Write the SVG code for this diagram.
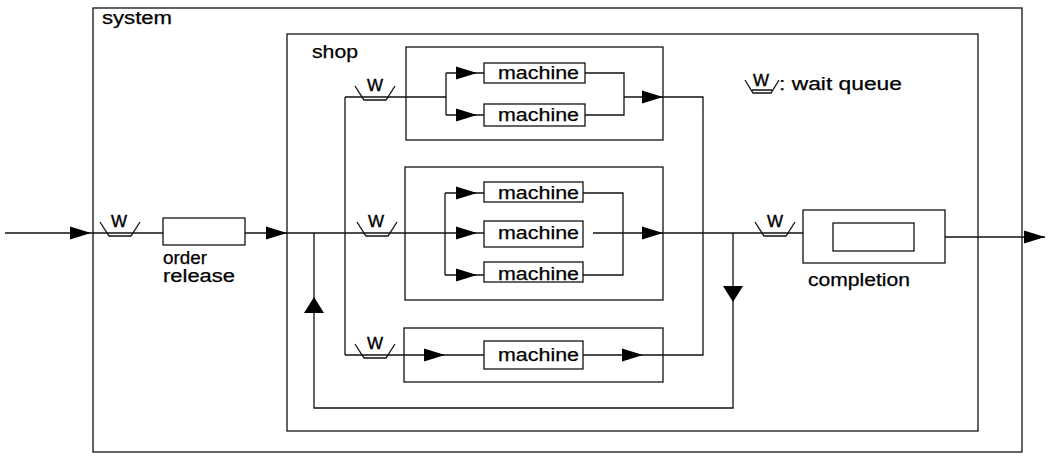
<svg xmlns="http://www.w3.org/2000/svg" width="1049" height="456" viewBox="0 0 1049 456">
<style>
.b{fill:none;stroke:#111;stroke-width:1.3}
.m{fill:#fff;stroke:#111;stroke-width:1.3}
.c{fill:none;stroke:#111;stroke-width:1.3}
.t{font-family:"Liberation Sans",Arial,sans-serif;font-size:17.5px;fill:#000;stroke:#000;stroke-width:0.25}
.w{font-family:"Liberation Sans",Arial,sans-serif;font-size:17px;fill:#000;stroke:#000;stroke-width:0.4;text-anchor:middle}
.ah{fill:#000}
.qs{fill:none;stroke:#111;stroke-width:1.3}
</style>
<defs>
<path id="ar" class="ah" d="M0,0 L-21,-6.5 L-21,6.5 Z"/>
<path id="ad" class="ah" d="M0,0 L-10,-16 L10,-16 Z"/>
<path id="au" class="ah" d="M0,0 L-10,16 L10,16 Z"/>
<path id="qsym" class="qs" d="M-20,-11 L-11,3 L11,3 L20,-11"/>
</defs>
<rect width="1049" height="456" fill="#fff"/>

<g id="system">
<rect class="b" x="93" y="8" width="929" height="444"/>
<text class="t" x="102" y="24" textLength="70" lengthAdjust="spacingAndGlyphs">system</text>
</g>
<g id="shop">
<rect class="b" x="287" y="34" width="691" height="397"/>
<text class="t" x="312" y="58" textLength="46" lengthAdjust="spacingAndGlyphs">shop</text>
</g>
<g id="cell1"><rect class="b" x="406" y="47" width="257" height="93"/></g>
<g id="cell2"><rect class="b" x="405" y="167" width="258" height="133"/></g>
<g id="cell3"><rect class="b" x="404" y="328" width="259" height="54"/></g>

<g id="connectors">
<path class="c" d="M5,233 H163"/>
<path class="c" d="M245,233 H484"/>
<path class="c" d="M314,233 V408 H733 V233"/>
<path class="c" d="M345,97 V355"/>
<path class="c" d="M345,97 H446 M446,73 V115 M446,73 H484 M446,115 H484"/>
<path class="c" d="M585,73 H624 V115 H585 M624,97 H703 V355 H583"/>
<path class="c" d="M445,193 V275 M445,193 H484 M445,275 H484"/>
<path class="c" d="M583,193 H623 V275 H583 M593,233 H803"/>
<path class="c" d="M345,355 H484"/>
<path class="c" d="M945,237 H1045"/>
<use href="#ar" x="91" y="233"/>
<use href="#ar" x="287" y="233"/>
<use href="#ar" x="477" y="73"/>
<use href="#ar" x="477" y="115"/>
<use href="#ar" x="663" y="97"/>
<use href="#ar" x="477" y="193"/>
<use href="#ar" x="477" y="233"/>
<use href="#ar" x="477" y="275"/>
<use href="#ar" x="663" y="233"/>
<use href="#ar" x="445" y="355"/>
<use href="#ar" x="643" y="355"/>
<use href="#ar" x="1045" y="237"/>
<use href="#au" x="314" y="297"/>
<use href="#ad" x="733" y="302"/>
</g>

<g id="queue-input"><use href="#qsym" x="120" y="233"/><text class="w" x="119" y="227">W</text></g>
<g id="queue-top"><use href="#qsym" x="375" y="97"/><text class="w" x="375" y="91">W</text></g>
<g id="queue-mid"><use href="#qsym" x="377" y="233"/><text class="w" x="376" y="227">W</text></g>
<g id="queue-bottom"><use href="#qsym" x="375" y="355"/><text class="w" x="375" y="349">W</text></g>
<g id="queue-completion"><use href="#qsym" x="775" y="233"/><text class="w" x="775" y="227">W</text></g>

<g id="order-release">
<rect class="m" x="163" y="218" width="82" height="27"/>
<text class="t" x="163" y="264" textLength="44" lengthAdjust="spacingAndGlyphs">order</text>
<text class="t" x="163" y="282" textLength="72" lengthAdjust="spacingAndGlyphs">release</text>
</g>

<g id="machine-1a"><rect class="m" x="484" y="63" width="101" height="20"/><text class="t" x="498" y="79" textLength="81" lengthAdjust="spacingAndGlyphs">machine</text></g>
<g id="machine-1b"><rect class="m" x="484" y="104" width="101" height="22"/><text class="t" x="498" y="121" textLength="81" lengthAdjust="spacingAndGlyphs">machine</text></g>
<g id="machine-2a"><rect class="m" x="484" y="182" width="99" height="20"/><text class="t" x="498" y="199" textLength="81" lengthAdjust="spacingAndGlyphs">machine</text></g>
<g id="machine-2b"><rect class="m" x="484" y="221" width="99" height="26"/><text class="t" x="498" y="239" textLength="81" lengthAdjust="spacingAndGlyphs">machine</text></g>
<g id="machine-2c"><rect class="m" x="484" y="262" width="99" height="20"/><text class="t" x="498" y="280" textLength="81" lengthAdjust="spacingAndGlyphs">machine</text></g>
<g id="machine-3"><rect class="m" x="484" y="341" width="99" height="28"/><text class="t" x="498" y="361" textLength="81" lengthAdjust="spacingAndGlyphs">machine</text></g>

<g id="completion">
<rect class="m" x="803" y="210" width="142" height="53"/>
<rect class="b" x="833" y="223" width="81" height="28"/>
<text class="t" x="808" y="286" textLength="102" lengthAdjust="spacingAndGlyphs">completion</text>
</g>

<g id="legend">
<path class="qs" d="M745,80 L753,93 L771,93 L779,80 M752,90 H772"/>
<text class="w" x="761" y="86">W</text>
<text class="t" x="779" y="90" textLength="123" lengthAdjust="spacingAndGlyphs">: wait queue</text>
</g>
</svg>
